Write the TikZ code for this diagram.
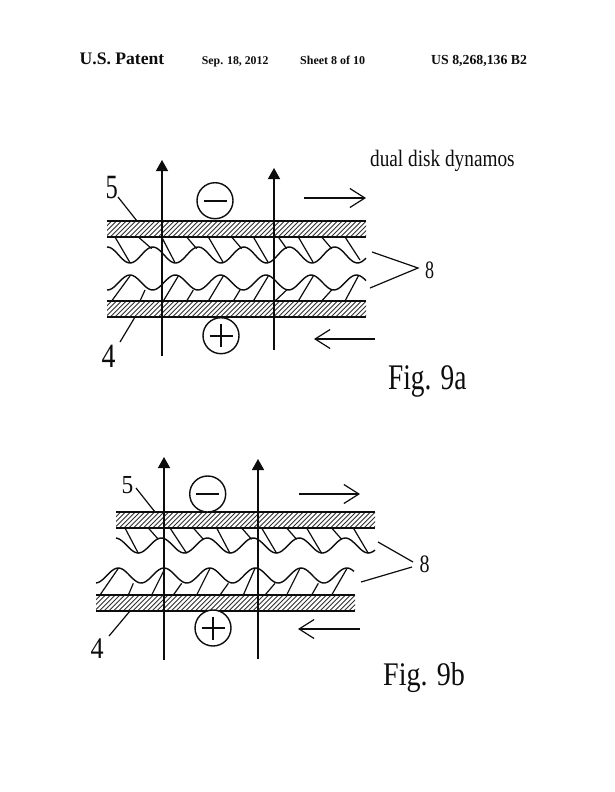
\documentclass[tikz,border=0pt]{standalone}
\usepackage{fontspec}
\setmainfont{Liberation Serif}
\usetikzlibrary{arrows.meta}
\definecolor{ink}{gray}{0.05}
\tikzset{
  lin/.style={line width=1.4pt,draw=ink},
  fieldarrow/.style={lin,-{Triangle[length=11pt,width=12pt]}},
  motion/.style={line width=1.2pt,draw=ink,-{Straight Barb[length=15pt,width=19pt,line width=1.2pt]}},
  leader/.style={line width=1.2pt,draw=ink},
  stroke/.style={line width=1.2pt,draw=ink},
  sign/.style={circle,draw=ink,line width=1.4pt,minimum size=36pt,inner sep=0pt,fill=white},
  txt/.style={text=ink,inner sep=0pt,anchor=base west},
}
\newcommand{\hatchband}[4]{% x1,y1,x2,y2
  \begin{scope}
    \clip (#1,#2) rectangle (#3,#4);
    \foreach \k in {0,4.8,...,300}
      \draw[line width=0.9pt,draw=ink!85] ({#1+\k-16},#4) -- ({#1+\k},#2);
  \end{scope}
  \draw[lin] (#1,#2) -- (#3,#2) (#1,#4) -- (#3,#4);
}
\newcommand{\signmark}[3]{% x,y,plus?
  \draw[line width=2.4pt,draw=ink] (#1-11.5,#2) -- (#1+11.5,#2);
  \ifnum#3=1 \draw[line width=2.4pt,draw=ink] (#1,#2-11.5) -- (#1,#2+11.5);\fi
}
\newcommand{\fsz}[1]{\fontsize{#1}{#1}\selectfont}
\begin{document}
\begin{tikzpicture}[x=1pt,y=-1pt]
\useasboundingbox (0,0) rectangle (614,792);
\fill[white] (0,0) rectangle (614,792);
% header
\node[txt,font=\bfseries\fsz{17.6}] (h1) at (79.5,65) {U.S. Patent};
\node[txt,font=\bfseries\fsz{11.8}] (h2) at (201.7,65) {Sep. 18, 2012};
\node[txt,font=\bfseries\fsz{12}] (h3) at (300,65) {Sheet 8 of 10};
\node[txt,font=\bfseries\fsz{13.8}] (h4) at (431,65) {US 8,268,136 B2};
\node[txt,font=\fsz{23.5},xscale=0.82] (title) at (370,166) {dual disk dynamos};

%%% Fig 9a
\hatchband{107}{221}{366}{237}
\hatchband{107}{301}{366}{317}
\draw[lin,smooth] plot[domain=107:366,samples=140] (\x,{255+8*cos((\x-130)/45.5*360)});
\draw[lin,smooth] plot[domain=107:366,samples=140] (\x,{282.5-7.5*cos((\x-130)/45.3*360)});
\foreach \a/\b/\c in {75/120/338,145/185/296,215/255/338,290/320/296,355/400/338,425/455/296,490/535/338,565/590/296,625/670/338,695/725/296,765/810/330}
  \draw[stroke] ({90+\a/3},237) -- ({90+\b/3},{150+\c/3});
\foreach \a/\b/\c in {65/120/378,150/165/420,220/265/378,290/310/420,355/400/378,430/450/420,490/535/378,555/590/420,625/670/378,695/725/420,765/805/378}
  \draw[stroke] ({90+\a/3},301) -- ({90+\b/3},{150+\c/3});
\coordinate (a1s) at (162,356); \coordinate (a1e) at (162,160);
\coordinate (a2s) at (274,350);   \coordinate (a2e) at (274,168);
\draw[fieldarrow] (a1s) -- (a1e);
\draw[fieldarrow] (a2s) -- (a2e);
\node[sign] (am) at (215,200.7) {};
\node[sign] (ap) at (221,335.7) {};
\signmark{215}{200.7}{0}
\signmark{221}{335.7}{1}
\coordinate (ar1) at (304,198); \coordinate (ar2) at (366,198);
\coordinate (al1) at (375,339); \coordinate (al2) at (314,339);
\draw[motion] (ar1) -- (ar2);
\draw[motion] (al1) -- (al2);
\node[txt,font=\fsz{34},xscale=0.72] (a5) at (105.5,198) {5};
\node[txt,font=\fsz{34},xscale=0.82] (a4) at (101.5,367) {4};
\node[txt,font=\fsz{25},xscale=0.72] (a8) at (425,278) {8};
\coordinate (a5t) at (137,221); \coordinate (a4t) at (135,317);
\coordinate (a8j) at (418,268); \coordinate (a8u) at (372,252); \coordinate (a8d) at (370,288);
\draw[leader] (118,197) -- (a5t);
\draw[leader] (120,342) -- (a4t);
\draw[leader] (a8u) -- (a8j) -- (a8d);
\node[txt,font=\fsz{36},xscale=0.76] (fa) at (388,389) {Fig. 9a};

%%% Fig 9b
\hatchband{116}{512}{375}{528}
\hatchband{96}{595}{355}{611}
\draw[lin,smooth] plot[domain=116:375,samples=140] (\x,{545.5+7.5*cos((\x-138.3)/46*360)});
\draw[lin,smooth] plot[domain=96:354,samples=140] (\x,{575.5-7.5*cos((\x-118.3)/45.7*360)});
\foreach \a/\b/\c in {165/205/325,235/265/283,300/350/325,370/400/283,440/480/325,515/545/283,575/620/325,650/680/283,710/755/325,785/815/283,850/895/325}
  \draw[stroke] ({70+\a/3},528) -- ({70+\b/3},{445+\c/3});
\foreach \a/\b/\c in {90/145/370,175/190/415,245/285/370,310/335/415,380/420/370,450/475/415,520/555/370,585/615/415,650/690/370,725/745/415,785/830/372}
  \draw[stroke] ({70+\a/3},595) -- ({70+\b/3},{445+\c/3});
\coordinate (b1s) at (164,660); \coordinate (b1e) at (164,457);
\coordinate (b2s) at (258,659); \coordinate (b2e) at (258,459);
\draw[fieldarrow] (b1s) -- (b1e);
\draw[fieldarrow] (b2s) -- (b2e);
\node[sign] (bm) at (207.7,494) {};
\node[sign] (bp) at (213,628) {};
\signmark{207.7}{494}{0}
\signmark{213}{628}{1}
\coordinate (br1) at (299,494); \coordinate (br2) at (360,494);
\coordinate (bl1) at (360,629); \coordinate (bl2) at (298,629);
\draw[motion] (br1) -- (br2);
\draw[motion] (bl1) -- (bl2);
\node[txt,font=\fsz{26},xscale=0.9] (b5) at (121.5,493) {5};
\node[txt,font=\fsz{30},xscale=0.87] (b4) at (90.5,658) {4};
\node[txt,font=\fsz{25},xscale=0.8] (b8) at (419.5,572) {8};
\coordinate (b5t) at (155,512); \coordinate (b4t) at (130,611);
\coordinate (b8u) at (378,542); \coordinate (b8ue) at (413,562);
\coordinate (b8d) at (361,582); \coordinate (b8de) at (412,567);
\draw[leader] (136,488) -- (b5t);
\draw[leader] (109,636) -- (b4t);
\draw[leader] (b8u) -- (b8ue);
\draw[leader] (b8d) -- (b8de);
\node[txt,font=\fsz{33},xscale=0.85] (fb) at (383,685) {Fig. 9b};
\end{tikzpicture}
\end{document}
